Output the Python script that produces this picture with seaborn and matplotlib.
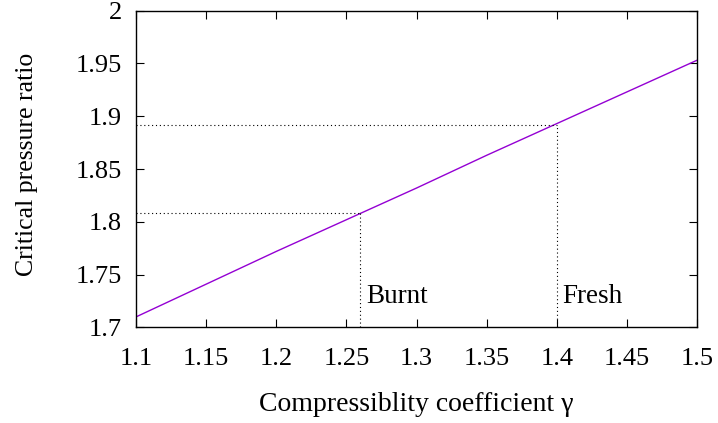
import matplotlib
matplotlib.use("Agg")
import matplotlib.pyplot as plt
import seaborn as sns
import pandas as pd

gamma = [1.10, 1.15, 1.20, 1.25, 1.30, 1.35, 1.40, 1.45, 1.50]
ratio = [1.710, 1.741, 1.772, 1.802, 1.832, 1.863, 1.893, 1.923, 1.953]
marks_gamma = [1.26, 1.40]
marks_ratio = [1.808, 1.892]
mark_labels = ["Burnt", "Fresh"]
xticks = [1.1, 1.15, 1.2, 1.25, 1.3, 1.35, 1.4, 1.45, 1.5]
yticks = [1.7, 1.75, 1.8, 1.85, 1.9, 1.95, 2.0]
xtick_labels = ["1.1", "1.15", "1.2", "1.25", "1.3", "1.35", "1.4", "1.45", "1.5"]
ytick_labels = ["1.7", "1.75", "1.8", "1.85", "1.9", "1.95", "2"]

sns.set_style("ticks")
plt.rcParams['font.family'] = ['Liberation Serif', 'DejaVu Serif']
for k in ['text.color', 'axes.labelcolor', 'xtick.color', 'ytick.color', 'axes.edgecolor']:
    plt.rcParams[k] = 'black'

fs_tick = 19
fs_lab = 19.5
fig = plt.figure(figsize=(7.18, 4.23), dpi=100)
ax = fig.add_axes([0.1894, 0.2258, 0.7814, 0.7492])

df = pd.DataFrame({"gamma": gamma, "ratio": ratio})
sns.lineplot(data=df, x="gamma", y="ratio", color="#9400d3", lw=1.0, ax=ax)

for g, r, lab in zip(marks_gamma, marks_ratio, mark_labels):
    ax.plot([1.1, g], [r, r], color="black", lw=0.8, ls=(0, (1, 2.5)))
    ax.plot([g, g], [1.7, r], color="black", lw=0.8, ls=(0, (1, 2.5)))
    ax.text(g + 0.004, 1.723, lab, fontsize=fs_lab, ha="left", va="baseline")

ax.set_xlim(1.1, 1.5)
ax.set_ylim(1.7, 2.0)
ax.set_xticks(xticks)
ax.set_xticklabels(xtick_labels)
ax.set_yticks(yticks)
ax.set_yticklabels(ytick_labels)
ax.tick_params(direction="in", length=6, width=0.8, labelsize=fs_tick, top=True, right=True)
ax.tick_params(axis="x", pad=15)
ax.tick_params(axis="y", pad=10)
for s in ax.spines.values():
    s.set_linewidth(1.0)
    s.set_visible(True)
ax.set_xlabel("Compressiblity coefficient γ", fontsize=20)
ax.set_ylabel("Critical pressure ratio", fontsize=18.5)
ax.xaxis.set_label_coords(0.5, -0.205)
ax.yaxis.set_label_coords(-0.174, 0.515)

fig.savefig("out.png", dpi=100)
